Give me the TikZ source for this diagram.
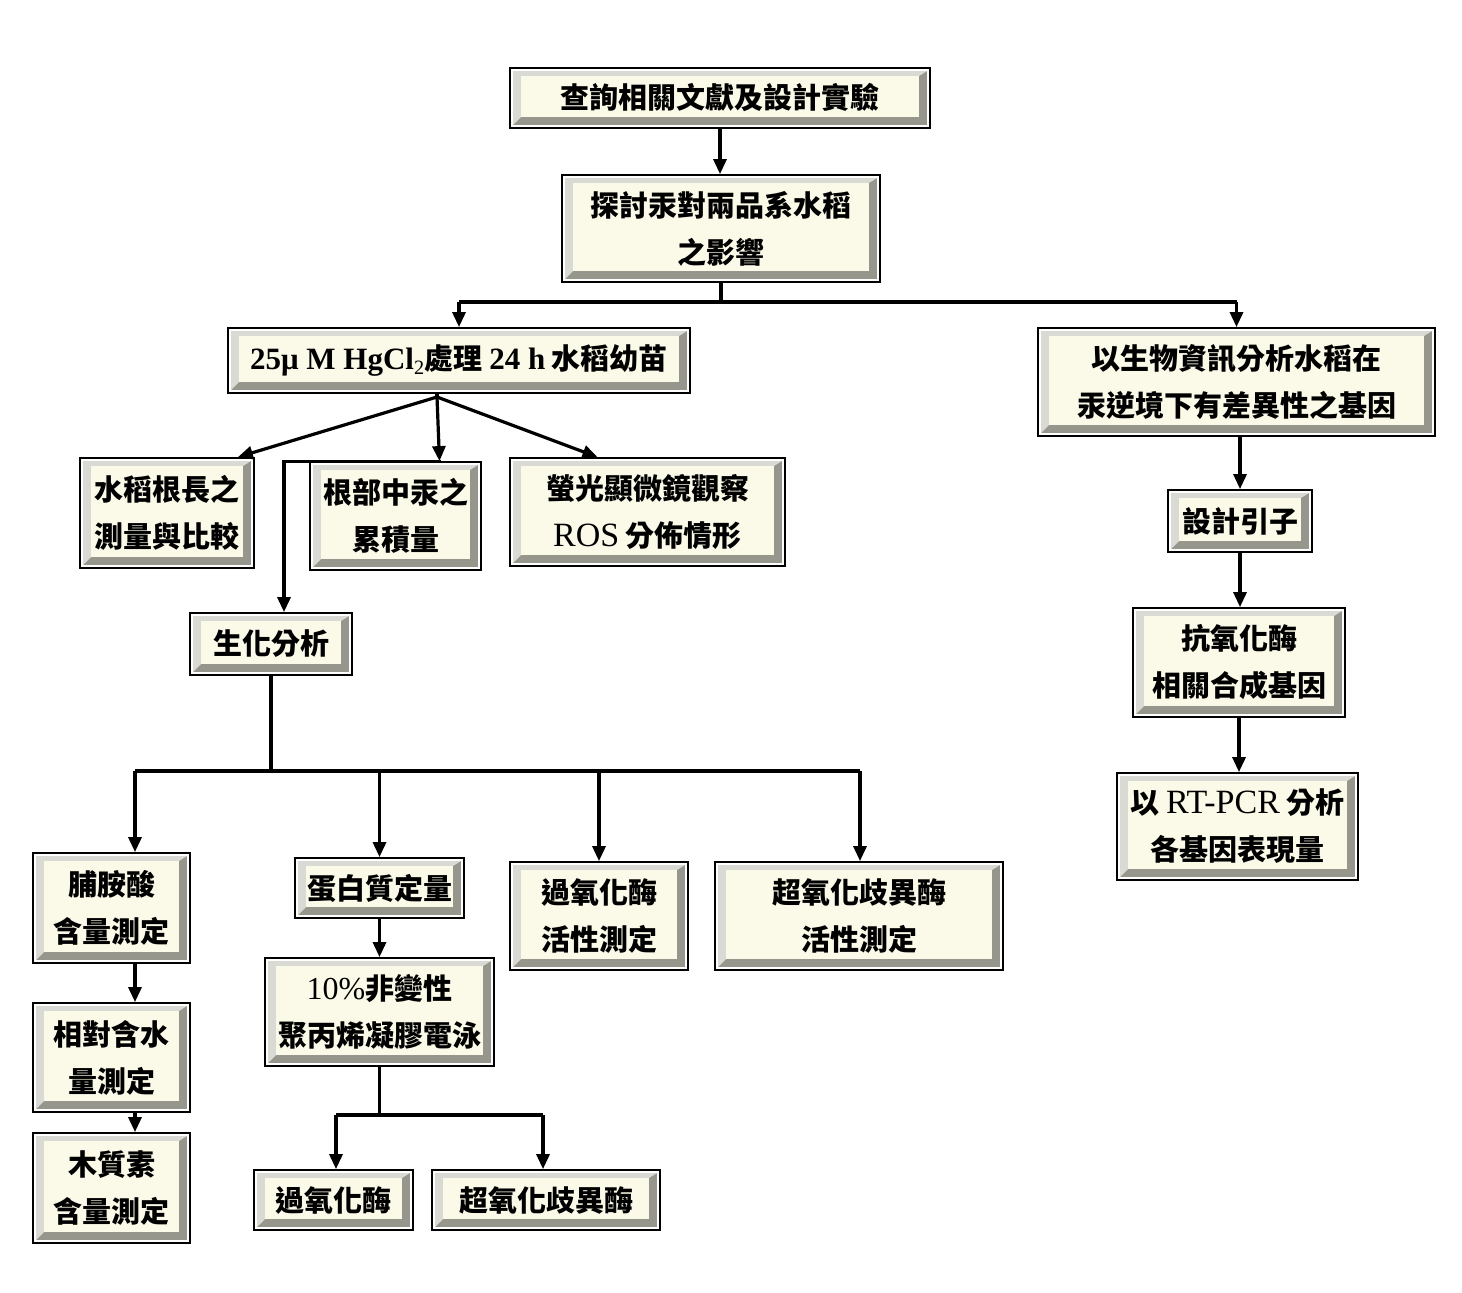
\documentclass[tikz,border=0pt]{standalone}
\usepackage{fontspec}
\setmainfont{Liberation Serif}
\newfontfamily\cjk{Noto Sans CJK TC}
\usetikzlibrary{arrows.meta,calc}
\definecolor{cream}{RGB}{251,249,231}
\definecolor{bevdark}{RGB}{150,150,140}
\definecolor{bevlight}{RGB}{218,218,212}
\newcommand\lat[1]{{\rmfamily #1}}
\newcommand\biglat[1]{{\fontsize{34}{47}\selectfont #1}}
\newcommand\bevbox[6]{%
  \fill[white] (#2,#3) rectangle (#4,#5);
  \fill[bevdark] (#2+3,#3+3) rectangle (#4-3,#5-3);
  \fill[bevlight] (#2+3,#3+3) -- (#4-3,#3+3) -- (#4-11,#3+8) -- (#2+11,#3+8) -- (#2+11,#5-11) -- (#2+3,#5-3) -- cycle;
  \fill[cream] (#2+11,#3+8) rectangle (#4-11,#5-11);
  \node[bx, minimum width={(#4-#2)*1pt}, minimum height={(#5-#3)*1pt}] (#1) at ({(#2+#4)/2},{(#3+#5)/2}) {#6};
}
\tikzset{
  bx/.style={draw=black, line width=1.8pt, align=center, inner sep=0pt,
    font=\cjk\bfseries\fontsize{29}{47}\selectfont},
  conn/.style={line width=3.2pt, draw=black},
  arr/.style={conn, -{Triangle[length=15pt,width=13pt]}},
}
\begin{document}
\begin{tikzpicture}[x=1pt,y=-1pt]
\useasboundingbox[fill=white] (0,0) rectangle (1462,1293);

\bevbox{top}{510}{68}{930}{128}{查詢相關文獻及設計實驗}
\bevbox{eff}{562}{175}{880}{282}{探討汞對兩品系水稻\\之影響}
\bevbox{hg}{228}{328}{690}{393}{{\bfseries\lat{{\fontsize{31}{40}\selectfont 25μ M HgCl}\textsubscript{\mdseries 2}}}處理 {\bfseries\lat{{\fontsize{31}{40}\selectfont 24 h}}} 水稻幼苗}
\bevbox{bio}{1038}{328}{1435}{436}{以生物資訊分析水稻在\\汞逆境下有差異性之基因}
\bevbox{root}{80}{458}{254}{568}{水稻根長之\\測量與比較}
\bevbox{acc}{310}{462}{481}{570}{根部中汞之\\累積量}
\bevbox{ros}{510}{458}{785}{566}{螢光顯微鏡觀察\\{\mdseries\lat{\biglat{ROS}}} 分佈情形}
\bevbox{chem}{190}{613}{352}{675}{生化分析}
\bevbox{primer}{1168}{490}{1312}{552}{設計引子}
\bevbox{anti}{1133}{608}{1345}{717}{抗氧化酶\\相關合成基因}
\bevbox{pcr}{1117}{773}{1358}{880}{以 {\mdseries\lat{\biglat{RT-PCR}}} 分析\\各基因表現量}
\bevbox{pro}{33}{853}{190}{963}{脯胺酸\\含量測定}
\bevbox{prot}{295}{858}{464}{918}{蛋白質定量}
\bevbox{pod}{510}{862}{688}{970}{過氧化酶\\活性測定}
\bevbox{sod}{715}{862}{1003}{970}{超氧化歧異酶\\活性測定}
\bevbox{page}{265}{958}{494}{1066}{{\mdseries\lat{{\fontsize{32}{47}\selectfont 10\%}}}非變性\\聚丙烯凝膠電泳}
\bevbox{rwc}{33}{1003}{190}{1112}{相對含水\\量測定}
\bevbox{lig}{33}{1133}{190}{1243}{木質素\\含量測定}
\bevbox{podb}{254}{1170}{413}{1230}{過氧化酶}
\bevbox{sodb}{432}{1170}{660}{1230}{超氧化歧異酶}

% top chain
\draw[arr] (top.south) -- (top.south |- eff.north);
\coordinate (split) at (721,302);
\draw[conn] (eff.south) -- (split);
\draw[conn] (hg.north |- split) -- (bio.north |- split);
\draw[arr] (hg.north |- split) -- (hg.north);
\draw[arr] (bio.north |- split) -- (bio.north);

% fan from hg
\coordinate (fan) at (437,397);
\draw[conn] ([xshift=-22pt]hg.south) -- (fan);
\draw[arr] (fan) -- ([xshift=-17pt]root.north east);
\draw[arr] (fan) -- ([xshift=44pt]acc.north);
\draw[arr] (fan) -- ([xshift=-50pt]ros.north);
\draw[arr,shorten <=-1.5pt] ([xshift=44pt]acc.north) -| ([xshift=13pt]chem.north);

% biochemical bus
\coordinate (busL) at (135,771);
\coordinate (busR) at (860,771);
\draw[conn] (chem.south) -- (chem.south |- busL);
\draw[conn] (busL) -- (busR);
\draw[arr] (busL) -- (busL |- pro.north);
\draw[arr] (prot.north |- busL) -- (prot.north);
\draw[arr] (pod.north |- busL) -- (pod.north);
\draw[arr] (busR) -- (busR |- sod.north);

% left column
\draw[arr] (busL |- pro.south) -- (busL |- rwc.north);
\draw[arr] (busL |- rwc.south) -- (busL |- lig.north);

% protein -> page
\draw[arr] (prot.south) -- (prot.south |- page.north);
\coordinate (pj) at (379.5,1115);
\draw[conn] (page.south) -- (pj);
\draw[conn] (336,1115) -- (543,1115);
\draw[arr] (336,1115) -- (podb.north -| 336,0);
\draw[arr] (543,1115) -- (sodb.north -| 543,0);

% right chain
\draw[arr] (primer.north |- bio.south) -- (primer.north);
\draw[arr] (primer.south) -- (primer.south |- anti.north);
\draw[arr] (anti.south) -- (anti.south |- pcr.north);
\end{tikzpicture}
\end{document}
